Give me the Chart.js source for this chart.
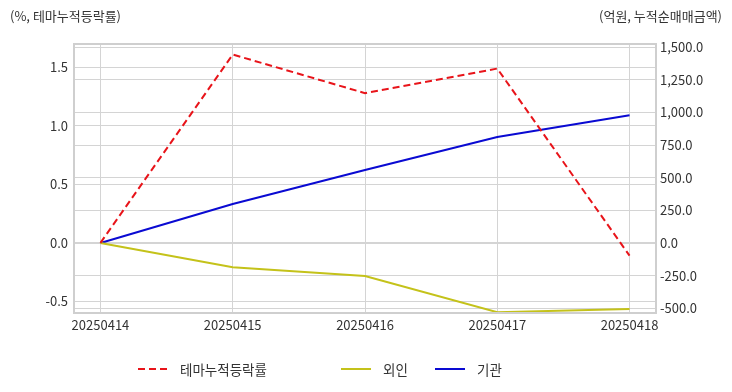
<!DOCTYPE html>
<html>
<head>
<meta charset="utf-8">
<script src="https://cdn.jsdelivr.net/npm/chart.js@4/dist/chart.umd.min.js"></script>
<style>
  body { margin: 0; background: #fff; font-family: "Noto Sans CJK KR", "Noto Sans", sans-serif; color: #333; }
  #wrap { position: relative; width: 732px; height: 392px; }
  #chart { position: absolute; left: 0; top: 0; }
  .unit { position: absolute; top: 6px; font-size: 13px; color: #333; white-space: nowrap; }
  #unitLeft { left: 10px; }
  #unitRight { right: 10px; }
  #legend { position: absolute; left: 138px; top: 359px; display: flex; align-items: center; font-size: 13.5px; color: #333; }
  #legend .item { display: flex; align-items: center; }
  #legend svg { margin-right: 12px; }
</style>
</head>
<body>
<div id="wrap">
  <canvas id="chart" width="732" height="392"></canvas>
  <div class="unit" id="unitLeft">(%, 테마누적등락률)</div>
  <div class="unit" id="unitRight">(억원, 누적순매매금액)</div>
  <div id="legend"></div>
</div>
<script>
var dates = ['20250414', '20250415', '20250416', '20250417', '20250418'];
var themeRate = [0, 1.61, 1.28, 1.49, -0.11];   // %, left axis
var foreign = [0, -186, -253, -530, -506];       // 억원, right axis
var institution = [0, 299, 559, 812, 979];       // 억원, right axis
var seriesNames = ['테마누적등락률', '외인', '기관'];
var leftTicks = [-0.5, 0, 0.5, 1.0, 1.5];
var rightTicks = [-500, -250, 0, 250, 500, 750, 1000, 1250, 1500];
var legendWidths = [203, 94, 0];

function toPoints(arr) {
	return arr.map(function (v, i) { return { x: i, y: v }; });
}

var datasets = [
	{
		label: seriesNames[0],
		data: toPoints(themeRate),
		yAxisID: 'y',
		borderColor: '#e8141a',
		borderWidth: 2,
		borderDash: [7, 4],
		pointRadius: 0,
		tension: 0
	},
	{
		label: seriesNames[1],
		data: toPoints(foreign),
		yAxisID: 'y1',
		borderColor: '#c4c21a',
		borderWidth: 2,
		pointRadius: 0,
		tension: 0
	},
	{
		label: seriesNames[2],
		data: toPoints(institution),
		yAxisID: 'y1',
		borderColor: '#0a0ad2',
		borderWidth: 2,
		pointRadius: 0,
		tension: 0
	}
];

var frame = {
	id: 'frame',
	afterDraw: function (chart) {
		var a = chart.chartArea, ctx = chart.ctx;
		ctx.save();
		ctx.strokeStyle = '#cfcfcf';
		ctx.lineWidth = 2;
		ctx.strokeRect(a.left, a.top, a.right - a.left, a.bottom - a.top);
		ctx.restore();
	}
};

function fixedTicks(list) {
	return function (scale) {
		scale.ticks = list.map(function (v) { return { value: v }; });
	};
}

var tickFont = { family: '"Noto Sans CJK KR", "Noto Sans", sans-serif', size: 13 };
var gridColor = '#d4d4d4';

new Chart(document.getElementById('chart'), {
	type: 'line',
	data: { datasets: datasets },
	plugins: [frame],
	options: {
		responsive: false,
		animation: false,
		layout: { padding: { top: 44, left: 0, right: 0, bottom: 0 } },
		plugins: { legend: { display: false }, tooltip: { enabled: false } },
		scales: {
			x: {
				type: 'linear',
				min: -0.2,
				max: 4.2,
				afterBuildTicks: fixedTicks(dates.map(function (d, i) { return i; })),
				afterFit: function (scale) { scale.height = 79; },
				ticks: {
					color: '#333',
					font: tickFont,
					padding: 4,
					maxRotation: 0,
					autoSkip: false,
					callback: function (v) { return dates[v]; }
				},
				grid: { color: gridColor, drawTicks: false },
				border: { display: false }
			},
			y: {
				position: 'left',
				min: -0.6,
				max: 1.7,
				afterBuildTicks: fixedTicks(leftTicks),
				afterFit: function (scale) { scale.width = 74; },
				ticks: {
					color: '#333',
					font: tickFont,
					padding: 6,
					autoSkip: false,
					callback: function (v) { return v.toFixed(1); }
				},
				grid: { color: gridColor, drawTicks: false },
				border: { display: false }
			},
			y1: {
				position: 'right',
				min: -536,
				max: 1525,
				afterBuildTicks: fixedTicks(rightTicks),
				afterFit: function (scale) { scale.width = 76; },
				ticks: {
					color: '#333',
					font: tickFont,
					padding: 4,
					autoSkip: false,
					callback: function (v) {
						return v.toLocaleString('en-US', { minimumFractionDigits: 1, maximumFractionDigits: 1 });
					}
				},
				grid: { color: gridColor, drawTicks: false },
				border: { display: false }
			}
		}
	}
});

// html legend built from the datasets
var legend = document.getElementById('legend');
datasets.forEach(function (ds, i) {
	var item = document.createElement('div');
	item.className = 'item';
	if (legendWidths[i]) item.style.width = legendWidths[i] + 'px';
	var dash = ds.borderDash ? ds.borderDash.join(' ') : 'none';
	item.innerHTML = '<svg width="30" height="4"><line x1="0" y1="2" x2="30" y2="2" stroke="' + ds.borderColor +
		'" stroke-width="2" stroke-dasharray="' + dash + '"/></svg><span>' + ds.label + '</span>';
	legend.appendChild(item);
});
</script>
</body>
</html>
